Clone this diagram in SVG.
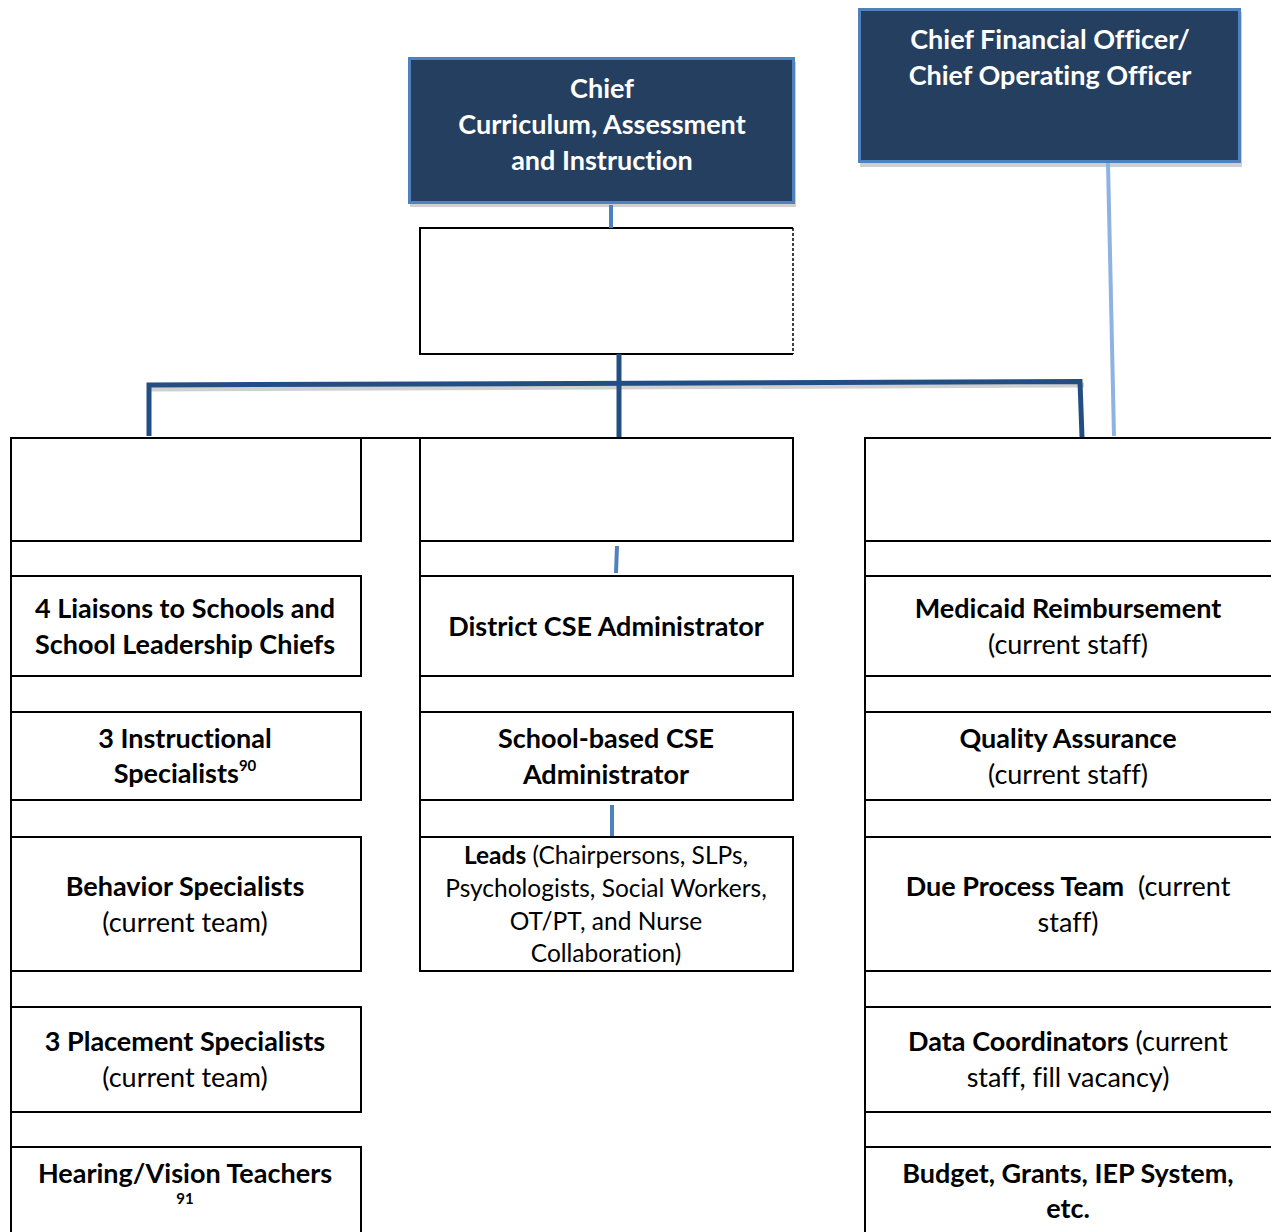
<svg xmlns="http://www.w3.org/2000/svg" width="1271" height="1232" viewBox="0 0 1271 1232">
  <style>
    .chief { fill: #243F60; stroke: #4F81BD; stroke-width: 3; }
    .shadow { fill: #CFCFCF; }
    .cell { fill: #FFFFFF; stroke: #000000; stroke-width: 2; }
    .rule { stroke: #000000; stroke-width: 2; fill: none; }
    .t { font-family: Lato, "Liberation Sans", sans-serif; font-size: 27px; text-anchor: middle; fill: #000000; font-variant-ligatures: none; }
    .s { font-size: 24.5px; }
    .b { font-weight: bold; }
    .w { fill: #FFFFFF; font-weight: bold; }
    .sup { font-size: 15px; font-weight: bold; }
    .main { stroke: #234E84; stroke-width: 5; fill: none; }
    .mainShadow { stroke: #D0D0D0; stroke-width: 5; fill: none; }
    .accent { stroke: #4F81BD; stroke-width: 4; fill: none; }
    .light { stroke: #8DB3E2; stroke-width: 4; fill: none; }
  </style>

  <rect width="1271" height="1232" fill="#FFFFFF"/>

  <!-- executive boxes -->
  <g id="chief-curriculum">
    <rect class="shadow" x="410" y="62" width="386" height="145"/>
    <rect class="chief" x="409.5" y="58.5" width="384" height="144"/>
    <text class="t w" x="602" y="98">Chief</text>
    <text class="t w" x="602" y="134">Curriculum, Assessment</text>
    <text class="t w" x="602" y="170">and Instruction</text>
  </g>

  <g id="chief-financial">
    <rect class="shadow" x="860" y="12" width="382" height="155"/>
    <rect class="chief" x="859.5" y="9.5" width="380" height="152"/>
    <text class="t w" x="1050" y="49">Chief Financial Officer/</text>
    <text class="t w" x="1050" y="85">Chief Operating Officer</text>
  </g>

  <!-- unlabeled box under the curriculum chief -->
  <g id="middle-head">
    <path class="rule" d="M793 228 H420 V354 H793"/>
    <line x1="793" y1="228" x2="793" y2="354" stroke="#000" stroke-width="1.5" stroke-dasharray="3 2"/>
  </g>

  <!-- connectors -->
  <g id="connectors">
    <line class="accent" x1="611" y1="205" x2="611" y2="228"/>
    <path class="mainShadow" d="M151 389 L1084 385"/>
    <path class="main" d="M149 436 V385 L1080 381.5 L1082 437"/>
    <line class="main" x1="619" y1="354" x2="619" y2="443"/>
    <line class="light" x1="1108" y1="163" x2="1114" y2="436"/>
    <line class="accent" x1="617" y1="546" x2="616" y2="573"/>
    <line class="accent" x1="612" y1="805" x2="612" y2="836"/>
  </g>

  <!-- left column -->
  <g id="left-column">
    <line class="rule" x1="11" y1="437" x2="11" y2="1232"/>
    <rect class="cell" x="11" y="438" width="350" height="103"/>
    <line class="rule" x1="361" y1="438" x2="420" y2="438"/>
  </g>
  <g id="liaisons">
    <rect class="cell" x="11" y="576" width="350" height="100"/>
    <text class="t b" x="185" y="618">4 Liaisons to Schools and</text>
    <text class="t b" x="185" y="654">School Leadership Chiefs</text>
  </g>
  <g id="instructional">
    <rect class="cell" x="11" y="712" width="350" height="88"/>
    <text class="t b" x="185" y="748">3 Instructional</text>
    <text class="t b" x="185" y="783">Specialists<tspan class="sup" dy="-12">90</tspan></text>
  </g>
  <g id="behavior">
    <rect class="cell" x="11" y="837" width="350" height="134"/>
    <text class="t b" x="185" y="896">Behavior Specialists</text>
    <text class="t" x="185" y="932">(current team)</text>
  </g>
  <g id="placement">
    <rect class="cell" x="11" y="1007" width="350" height="105"/>
    <text class="t b" x="185" y="1051">3 Placement Specialists</text>
    <text class="t" x="185" y="1087">(current team)</text>
  </g>
  <g id="hearing-vision">
    <path class="rule" d="M11 1147 H361 V1232"/>
    <text class="t b" x="185" y="1183">Hearing/Vision Teachers</text>
    <text class="t sup" x="185" y="1204">91</text>
  </g>

  <!-- middle column -->
  <g id="middle-column">
    <line class="rule" x1="420" y1="437" x2="420" y2="972"/>
    <rect class="cell" x="420" y="438" width="373" height="103"/>
  </g>
  <g id="district-cse">
    <rect class="cell" x="420" y="576" width="373" height="100"/>
    <text class="t b" x="606" y="636">District CSE Administrator</text>
  </g>
  <g id="school-cse">
    <rect class="cell" x="420" y="712" width="373" height="88"/>
    <text class="t b" x="606" y="748">School-based CSE</text>
    <text class="t b" x="606" y="784">Administrator</text>
  </g>
  <g id="leads">
    <rect class="cell" x="420" y="837" width="373" height="134"/>
    <text class="t s" x="606" y="864"><tspan font-weight="bold">Leads</tspan> (Chairpersons, SLPs,</text>
    <text class="t s" x="606" y="897">Psychologists, Social Workers,</text>
    <text class="t s" x="606" y="930">OT/PT, and Nurse</text>
    <text class="t s" x="606" y="962">Collaboration)</text>
  </g>

  <!-- right column -->
  <g id="right-column">
    <line class="rule" x1="865" y1="437" x2="865" y2="1232"/>
    <path class="rule" d="M1271 438 H865 M865 541 H1271"/>
  </g>
  <g id="medicaid">
    <path class="rule" d="M865 576 H1271 M865 676 H1271"/>
    <text class="t b" x="1068" y="618">Medicaid Reimbursement</text>
    <text class="t" x="1068" y="654">(current staff)</text>
  </g>
  <g id="quality">
    <path class="rule" d="M865 712 H1271 M865 800 H1271"/>
    <text class="t b" x="1068" y="748">Quality Assurance</text>
    <text class="t" x="1068" y="784">(current staff)</text>
  </g>
  <g id="due-process">
    <path class="rule" d="M865 837 H1271 M865 971 H1271"/>
    <text class="t" x="1068" y="896" xml:space="preserve"><tspan font-weight="bold">Due Process Team</tspan>  (current</text>
    <text class="t" x="1068" y="932">staff)</text>
  </g>
  <g id="data-coordinators">
    <path class="rule" d="M865 1007 H1271 M865 1112 H1271"/>
    <text class="t" x="1068" y="1051"><tspan font-weight="bold">Data Coordinators</tspan> (current</text>
    <text class="t" x="1068" y="1087">staff, fill vacancy)</text>
  </g>
  <g id="budget">
    <path class="rule" d="M865 1147 H1271"/>
    <text class="t b" x="1068" y="1183">Budget, Grants, IEP System,</text>
    <text class="t b" x="1068" y="1218">etc.</text>
  </g>
</svg>
